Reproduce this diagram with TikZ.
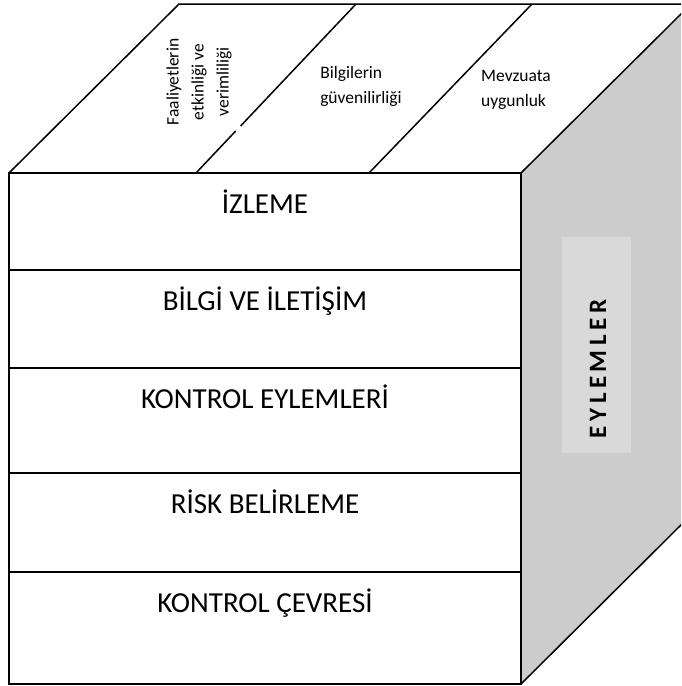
\documentclass[tikz,border=0pt]{standalone}
\usepackage{fontspec}
\setmainfont{Carlito}
\begin{document}
\begin{tikzpicture}[x=1pt,y=-1pt,
  edge/.style={line width=1.5pt,line join=miter},
  frontlbl/.style={anchor=base,inner sep=0pt,font=\fontsize{29}{34}\selectfont},
  toplbl/.style={inner sep=0pt,font=\fontsize{17.5}{25}\selectfont},
  sidelbl/.style={inner sep=0pt,rotate=90,font=\fontsize{25}{30}\selectfont\bfseries}]
\useasboundingbox (0,0) rectangle (681,686);
\definecolor{sidegray}{RGB}{204,204,204}
\definecolor{panelgray}{RGB}{217,217,217}
\begin{scope}
\clip (0,0) rectangle (681,686);
% right face
\fill[sidegray] (521,173) -- (691,4) -- (691,515) -- (521,684) -- cycle;
\fill[panelgray] (562,237) rectangle (631,453);
\draw[edge] (521,173) -- (691,4);
\draw[edge] (521,684) -- (691,515);
% top face
\draw[edge] (9,173) -- (179,4) -- (691,4);
\draw[edge] (196,173) -- (235.7,131);
\draw[edge] (240.6,126) -- (356,4);
\draw[edge] (369,173) -- (532,4);
\end{scope}
% front face
\draw[edge] (9,173) rectangle (521,684);
\foreach \yy in {270,368,473,572} \draw[edge] (9,\yy) -- (521,\yy);
% front labels
\node[frontlbl] (izleme) at (265,213) {İZLEME};
\node[frontlbl] (bilgi) at (265,310) {BİLGİ VE İLETİŞİM};
\node[frontlbl] (kontrol) at (265,408) {KONTROL EYLEMLERİ};
\node[frontlbl] (risk) at (265,513) {RİSK BELİRLEME};
\node[frontlbl] (cevre) at (265,612) {KONTROL ÇEVRESİ};
% top labels
\node[toplbl,rotate=90,align=center] (faal) at (199,82) {Faaliyetlerin\\etkinliği ve\\verimliliği};
\node[toplbl,align=left] (bilgiler) at (361,86) {Bilgilerin\\güvenilirliği};
\node[toplbl,align=left] (mevzuat) at (516,90) {Mevzuata\\uygunluk};
% side label
\node[sidelbl] (eylem) at (598,369) {E\kern4.5pt Y\kern4.5pt L\kern4.5pt E\kern4.5pt M\kern4.5pt L\kern4.5pt E\kern4.5pt R};
\end{tikzpicture}
\end{document}
